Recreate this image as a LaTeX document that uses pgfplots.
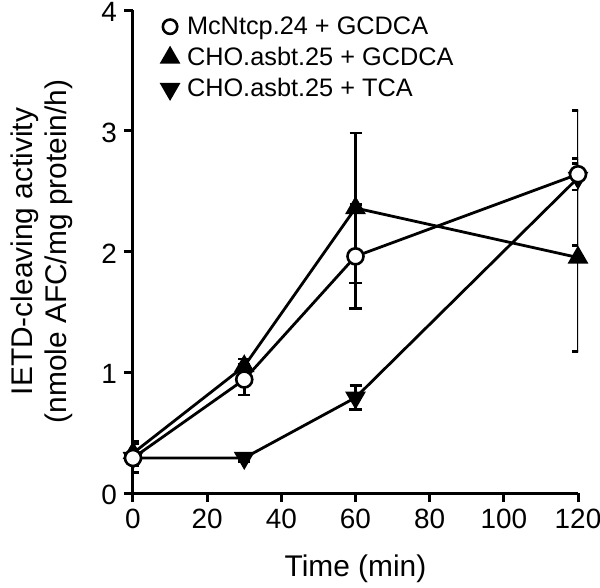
\documentclass[border=0pt]{standalone}
\usepackage{pgfplots}
\pgfplotsset{compat=1.18}
\usepackage{fontspec}
\setmainfont{Liberation Sans}
\begin{document}
\begin{tikzpicture}
\begin{axis}[
  scale only axis,
  width=222.5bp, height=241.5bp,
  xmin=0, xmax=120, ymin=0, ymax=4,
  axis x line*=bottom, axis y line*=left,
  axis line style={line width=1.5bp, -},
  xtick={0,20,...,120}, ytick={0,1,2,3,4},
  tick align=outside, major tick length=4.5bp,
  tick style={line width=1.5bp, black},
  /pgf/number format/assume math mode=true,
  tick label style={font=\fontsize{14}{16}\selectfont},
  yticklabel style={yshift=-1bp},
  xlabel={Time (min)},
  ylabel={IETD-cleaving activity\\(nmole AFC/mg protein/h)},
  label style={font=\fontsize{15}{17}\selectfont},
  ylabel style={align=center, at={(axis description cs:-0.29,0.5)}, anchor=north},
  xlabel style={yshift=-6bp},
  legend style={at={(0.06,1.0)}, anchor=north west, draw=none, fill=none,
    font=\fontsize{12.7}{14}\selectfont, row sep=1bp, inner sep=1bp},
  legend cell align=left,
  every axis plot/.append style={line width=1.4bp, black},
  error bars/error bar style={line width=1.3bp, black},
  error bars/error mark options={rotate=90, mark size=3bp, line width=1.3bp, black},
]
\addlegendimage{only marks, mark=*, mark size=3.6bp, mark options={fill=white, line width=1.3bp}}
\addlegendentry{\hspace{2.5bp}McNtcp.24 + GCDCA}
\addlegendimage{only marks, mark=triangle*, mark size=4.6bp, mark options={fill=black}}
\addlegendentry{\hspace{2.5bp}CHO.asbt.25 + GCDCA}
\addlegendimage{only marks, mark=triangle*, mark size=4.6bp, mark options={fill=black, rotate=180}}
\addlegendentry{\hspace{2.5bp}CHO.asbt.25 + TCA}

% CHO.asbt.25 + TCA
\addplot[forget plot, mark=triangle*, mark size=4.6bp, mark options={fill=black, rotate=180},
  error bars/.cd, y dir=both, y explicit]
  table[x=x, y=y, y error=e] {
x y e
0 0.29 0.04
30 0.29 0.03
60 0.79 0.10
120 2.61 0.56
};
% CHO.asbt.25 + GCDCA
\addplot[forget plot, mark=triangle*, mark size=4.6bp, mark options={fill=black},
  error bars/.cd, y dir=both, y explicit]
  table[x=x, y=y, y error=e] {
x y e
0 0.33 0.10
30 1.05 0.06
60 2.36 0.62
120 1.95 0.78
};
% McNtcp.24 + GCDCA
\addplot[forget plot, mark=*, mark size=4bp, mark options={fill=white, line width=1.3bp},
  error bars/.cd, y dir=both, y explicit]
  table[x=x, y=y, y error=e] {
x y e
0 0.29 0.12
30 0.94 0.13
60 1.96 0.43
120 2.64 0.13
};
\end{axis}
\pgfresetboundingbox
\path ([xshift=-66.5bp,yshift=-47.5bp]current axis.south west) rectangle ([xshift=11bp,yshift=5bp]current axis.north east);
\end{tikzpicture}
\end{document}
